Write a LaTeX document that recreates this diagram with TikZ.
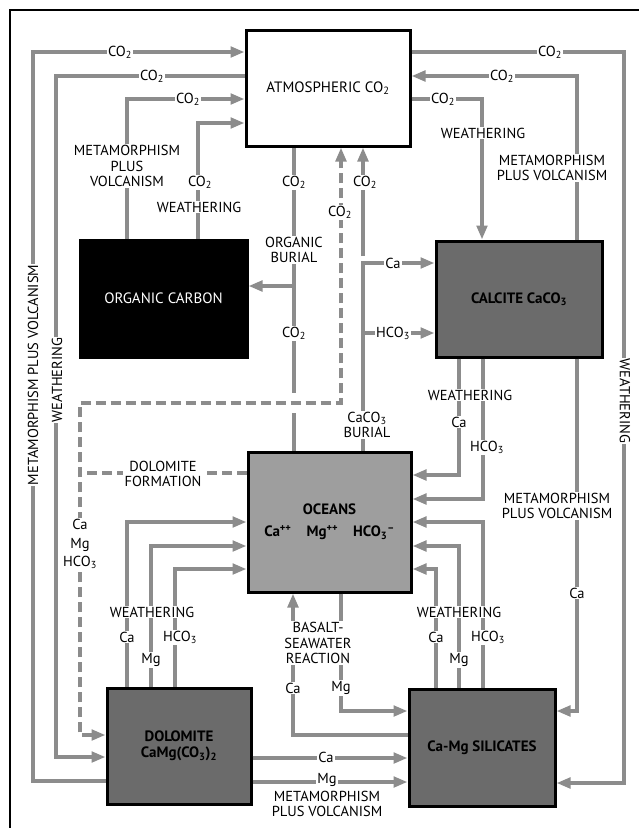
\documentclass[tikz,border=0pt]{standalone}
\usepackage{fontspec}
\setmainfont{PT Sans}
\usetikzlibrary{arrows.meta, positioning}
\definecolor{flowgray}{gray}{0.55}
\definecolor{seagray}{gray}{0.62}
\definecolor{rockgray}{gray}{0.42}
\newcommand{\COtwo}{CO\textsubscript{2}}
\newcommand{\HCOthree}{HCO\textsubscript{3}}

\begin{document}
\begin{tikzpicture}[x=1pt, y=-1pt,
	box/.style={draw=black, line width=3pt, align=center, inner sep=2pt, font=\fontsize{15}{16}\selectfont},
	rock/.style={box, fill=rockgray, font=\fontsize{15}{16}\selectfont\bfseries},
	plain/.style={draw=flowgray, line width=3.8pt},
	flow/.style={plain, -{Triangle[length=14pt, width=10.5pt]}},
	dflow/.style={plain, dash pattern=on 10pt off 5pt},
	lbl/.style={fill=white, inner sep=1.2pt, align=center, font=\fontsize{14.5}{15.5}\selectfont}]

	\useasboundingbox (0,0) rectangle (639,828);
	\draw[line width=2pt] (10,828) |- (639,10);

	\node[box, fill=white, minimum width=164pt, minimum height=116pt] (atm) at (328,88) {ATMOSPHERIC \COtwo};
	\node[box, fill=black, text=white, minimum width=167pt, minimum height=117pt] (org) at (163.5,298.5) {ORGANIC CARBON};
	\node[rock, minimum width=166pt, minimum height=116pt] (calc) at (519,299) {CALCITE CaCO\textsubscript{3}};
	\node[box, fill=seagray, font=\fontsize{15}{16}\selectfont\bfseries, minimum width=163pt, minimum height=140pt] (ocean) at (329.5,522)
		{OCEANS\\[6pt]Ca\textsuperscript{++}\quad Mg\textsuperscript{++}\quad \HCOthree\textsuperscript{--}};
	\node[rock, minimum width=144pt, minimum height=116pt] (dolo) at (179,746) {DOLOMITE\\CaMg(CO\textsubscript{3})\textsubscript{2}};
	\node[rock, minimum width=146pt, minimum height=117pt] (sil) at (482,747.5) {Ca-Mg SILICATES};

	\coordinate (obranch) at (294,286);
	\coordinate (cross) at (294,403);
	\coordinate (cbtop) at (363,256);
	\coordinate (cbmid) at (363,333);
	\coordinate (dfjoin) at (80,473);

	% left side
	\draw[flow] (dolo.west |- 0,781) -| (33,52) -- (atm.west |- 0,52);
	\draw[flow] (atm.west |- 0,76) -| (56,757) -- (dolo.west |- 0,757);
	\draw[flow] (org.north -| 127,0) |- (atm.west |- 0,99);
	\draw[flow] (org.north -| 198,0) |- (atm.west |- 0,123);
	\draw[plain] (ocean.north -| 294,0) -- (atm.south -| 294,0);
	\draw[flow] (obranch) -- (org.east |- obranch);
	\draw[flow] (cbtop) -- (atm.south -| cbtop);
	\draw[flow] (ocean.north -| cbtop) |- (calc.west |- 0,263);
	\draw[flow] (cbmid) -- (calc.west |- cbmid);

	% dolomite formation
	\draw[white, line width=20pt] ([xshift=-8pt]cross) -- ([xshift=8pt]cross);
	\draw[dflow, {Triangle[length=14pt, width=10.5pt]}-{Triangle[length=14pt, width=10.5pt]}] (dolo.west |- 0,735) -| (80,403) -| (atm.south -| 341,0);
	\draw[dflow] (ocean.west |- dfjoin) -- (dfjoin);

	% right side
	\draw[flow] (atm.east |- 0,52) -| (624,783) -- (sil.east |- 0,783);
	\draw[flow] (calc.north -| 577,0) |- (atm.east |- 0,76);
	\draw[flow] (atm.east |- 0,99) -| (calc.north -| 482,0);
	\draw[flow] (calc.south -| 459,0) |- (ocean.east |- 0,475);
	\draw[flow] (calc.south -| 483,0) |- (ocean.east |- 0,499);
	\draw[flow] (calc.south -| 577,0) |- (sil.east |- 0,711);
	\draw[flow] (sil.north -| 483,0) |- (ocean.east |- 0,522);
	\draw[flow] (sil.north -| 459,0) |- (ocean.east |- 0,546);
	\draw[flow] (sil.north -| 436,0) |- (ocean.east |- 0,569);

	% bottom
	\draw[flow] (dolo.north -| 127,0) |- (ocean.west |- 0,522);
	\draw[flow] (dolo.north -| 151,0) |- (ocean.west |- 0,546);
	\draw[flow] (dolo.north -| 175,0) |- (ocean.west |- 0,569);
	\draw[flow] (sil.west |- 0,735) -| (ocean.south -| 293,0);
	\draw[flow] (ocean.south -| 341,0) |- (sil.west |- 0,711);
	\draw[flow] (dolo.east |- 0,758) -- (sil.west |- 0,758);
	\draw[flow] (dolo.east |- 0,782) -- (sil.west |- 0,782);

	% labels
	\node[lbl] (co2a) at (120,52) {\COtwo};
	\node[lbl] (co2b) at (152,76) {\COtwo};
	\node[lbl] (co2c) at (188,99) {\COtwo};
	\node[lbl, rotate=90] (mpvleft) at (33,375) {METAMORPHISM PLUS VOLCANISM};
	\node[lbl, rotate=90] (wleft) at (57,380) {WEATHERING};
	\node[lbl] (mpvorg) at (127,166) {METAMORPHISM\\PLUS\\VOLCANISM};
	\node[lbl] (co2d) at (200,182) {\COtwo};
	\node[lbl] (worg) at (199,207) {WEATHERING};
	\node[lbl] (co2e) at (294,182) {\COtwo};
	\node[lbl] (oburial) at (294,250) {ORGANIC\\BURIAL};
	\node[lbl] (co2f) at (294,333) {\COtwo};
	\node[lbl] (co2g) at (340,212) {\COtwo};
	\node[lbl] (co2h) at (365,182) {\COtwo};
	\node[lbl] (caburial) at (393,263) {Ca};
	\node[lbl] (hcoburial) at (393,333) {\HCOthree};
	\node[lbl] (cburial) at (367,425) {CaCO\textsubscript{3}\\BURIAL};
	\node[lbl] (dolform) at (163,474) {DOLOMITE\\FORMATION};
	\node[lbl, font=\fontsize{14.5}{18.5}\selectfont] (dolions) at (80,544) {Ca\\Mg\\\HCOthree};

	\node[lbl] (co2i) at (550,52) {\COtwo};
	\node[lbl] (co2j) at (502,76) {\COtwo};
	\node[lbl] (co2k) at (443,99) {\COtwo};
	\node[lbl] (wcalc) at (483,133) {WEATHERING};
	\node[lbl] (mpvcalc) at (552,168) {METAMORPHISM\\PLUS VOLCANISM};
	\node[lbl, rotate=-90] (wright) at (625,401) {WEATHERING};
	\node[lbl] (wcalcdown) at (470,395) {WEATHERING};
	\node[lbl] (cacalc) at (459,422) {Ca};
	\node[lbl] (hcocalc) at (487,447) {\HCOthree};
	\node[lbl] (mpvsil) at (557,506) {METAMORPHISM\\PLUS VOLCANISM};
	\node[lbl] (casil) at (577,593) {Ca};
	\node[lbl] (wsil) at (459,612) {WEATHERING};
	\node[lbl] (casil2) at (436,637) {Ca};
	\node[lbl] (mgsil) at (459,660) {Mg};
	\node[lbl] (hcosil) at (488,637) {\HCOthree};

	\node[lbl] (wdol) at (152,612) {WEATHERING};
	\node[lbl] (cadol) at (127,637) {Ca};
	\node[lbl] (mgdol) at (151,660) {Mg};
	\node[lbl] (hcodol) at (180,637) {\HCOthree};
	\node[lbl] (basalt) at (318,643) {BASALT-\\SEAWATER\\REACTION};
	\node[lbl] (cabas) at (293,688) {Ca};
	\node[lbl] (mgbas) at (341,688) {Mg};
	\node[lbl] (cametam) at (326,757) {Ca};
	\node[lbl] (mgmetam) at (327,780) {Mg};
	\node[lbl, fill=none] (mpvbot) at (327,804) {METAMORPHISM\\PLUS VOLCANISM};

\end{tikzpicture}
\end{document}
